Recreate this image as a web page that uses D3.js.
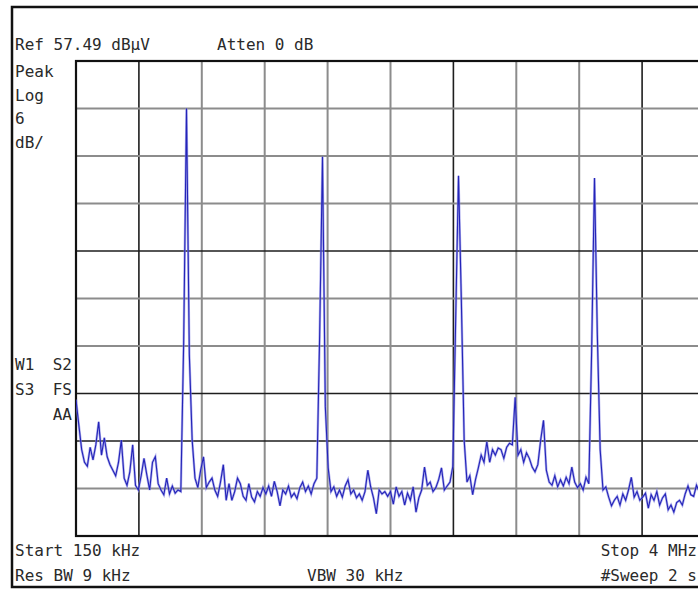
<!DOCTYPE html>
<meta charset="utf-8">
<style>
body { margin: 0; background: #fff; }
.lbl { font-family: "DejaVu Sans Mono", monospace; font-size: 16px; fill: #2a2a2a; }
</style>
<svg id="chart" width="698" height="590"></svg>
<script src="https://d3js.org/d3.v7.min.js"></script>
<script>

// sweep settings (MHz, dBuV)
var startMHz = 0.15,
    stopMHz = 4,
    refLevel = 57.49,
    dbPerDiv = 6,
    divisions = 10;

// trace amplitudes, dBuV, one per sweep point from start to stop
var trace = [
  14.7, 11.5, 8.4, 6.8, 6.3, 8.7, 7.1, 9.0, 11.9, 7.7,
  9.9, 7.5, 6.5, 5.8, 5.1, 6.8, 9.6, 4.8, 3.9, 5.6,
  9.0, 3.9, 3.3, 5.1, 7.3, 5.2, 3.3, 6.8, 7.5, 4.1,
  3.3, 2.7, 4.8, 2.8, 3.8, 2.9, 3.3, 3.1, 21.9, 51.5,
  20.4, 9.6, 4.8, 3.6, 5.8, 7.5, 3.6, 4.3, 4.8, 3.3,
  2.5, 4.3, 6.5, 2.0, 4.1, 2.0, 3.1, 4.8, 4.1, 2.5,
  2.0, 4.1, 2.4, 1.8, 3.1, 2.5, 3.6, 2.8, 3.8, 2.5,
  4.4, 3.1, 1.3, 3.3, 2.8, 3.8, 2.4, 2.9, 2.2, 3.6,
  4.3, 3.1, 3.8, 2.8, 4.1, 4.8, 22.9, 45.4, 13.8, 6.1,
  3.1, 3.7, 2.5, 3.3, 2.4, 3.8, 4.6, 2.8, 3.3, 2.3,
  2.8, 2.0, 3.1, 5.8, 3.7, 2.3, 0.3, 3.3, 2.8, 3.1,
  2.5, 3.1, 1.5, 3.7, 2.5, 3.1, 1.4, 2.9, 2.0, 3.7,
  0.5, 2.3, 3.3, 6.2, 3.9, 4.3, 3.1, 3.6, 4.6, 6.1,
  3.3, 3.8, 4.3, 6.3, 24.8, 43.0, 27.3, 9.6, 4.3, 5.1,
  2.7, 4.6, 6.1, 7.7, 6.8, 9.4, 6.8, 8.4, 7.7, 8.6,
  8.4, 7.3, 8.7, 9.2, 9.0, 15.0, 7.7, 8.4, 6.8, 8.0,
  7.3, 6.2, 5.6, 6.5, 9.6, 12.1, 5.8, 4.3, 3.9, 5.1,
  3.7, 4.6, 3.8, 4.9, 4.1, 6.2, 4.3, 3.6, 4.1, 3.3,
  4.9, 4.1, 21.0, 42.7, 22.9, 8.4, 3.3, 3.7, 2.4, 1.3,
  2.0, 2.5, 1.4, 2.8, 2.0, 3.3, 4.9, 2.4, 3.1, 2.0,
  2.4, 2.9, 1.0, 2.7, 2.0, 3.1, 1.4, 2.3, 2.8, 0.8,
  1.4, 0.5, 1.7, 2.0, 1.4, 2.8, 3.8, 2.7, 2.5, 3.9,
  3.1, 3.6, 3.3
];

var topLabels = ["Ref 57.49 dB\u00b5V", "Atten 0 dB"];
var sideLabels = ["Peak", "Log", "6", "dB/"];
var modeLabels = [["W1", "S2"], ["S3", "FS"], ["", "AA"]];
var bottomLeft = ["Start 150 kHz", "Res BW 9 kHz"];
var bottomMid = "VBW 30 kHz";
var bottomRight = ["Stop 4 MHz", "#Sweep 2 s"];

var svg = d3.select("svg");

var plot = {left: 76, top: 61, width: 629, height: 475};

var x = d3.scaleLinear()
    .domain([startMHz, stopMHz])
    .range([plot.left, plot.left + plot.width]);

var y = d3.scaleLinear()
    .domain([refLevel - dbPerDiv * divisions, refLevel])
    .range([plot.top + plot.height, plot.top]);

var step = (stopMHz - startMHz) / (trace.length - 1);
var points = trace.map(function(d, i) { return [startMHz + i * step, d]; });

// outer frame (right side is off the picture)
svg.append("rect")
    .attr("x", 12).attr("y", 7)
    .attr("width", 720).attr("height", 580)
    .attr("fill", "none")
    .attr("stroke", "#111")
    .attr("stroke-width", 2.5);

// graticule
var xDiv = d3.range(1, divisions).map(function(k) { return startMHz + k * (stopMHz - startMHz) / divisions; });
var yDiv = d3.range(1, divisions).map(function(k) { return refLevel - k * dbPerDiv; });
var darkX = [1, 6, 9], darkY = [4, 7, 8];

var grid = svg.append("g");

grid.selectAll(".vgrid")
    .data(xDiv)
  .enter().append("line")
    .attr("x1", function(d) { return x(d); })
    .attr("x2", function(d) { return x(d); })
    .attr("y1", plot.top)
    .attr("y2", plot.top + plot.height)
    .attr("stroke", function(d, i) { return darkX.indexOf(i + 1) >= 0 ? "#1e1e1e" : "#8c8c8c"; })
    .attr("stroke-width", function(d, i) { return darkX.indexOf(i + 1) >= 0 ? 1.6 : 2; });

grid.selectAll(".hgrid")
    .data(yDiv)
  .enter().append("line")
    .attr("x1", plot.left)
    .attr("x2", plot.left + plot.width)
    .attr("y1", function(d) { return y(d); })
    .attr("y2", function(d) { return y(d); })
    .attr("stroke", function(d, i) { return darkY.indexOf(i + 1) >= 0 ? "#1e1e1e" : "#8c8c8c"; })
    .attr("stroke-width", function(d, i) { return darkY.indexOf(i + 1) >= 0 ? 1.6 : 2; });

grid.append("rect")
    .attr("x", plot.left).attr("y", plot.top)
    .attr("width", plot.width).attr("height", plot.height)
    .attr("fill", "none")
    .attr("stroke", "#111")
    .attr("stroke-width", 2.2);

// trace
svg.append("clipPath").attr("id", "clip")
  .append("rect")
    .attr("x", plot.left).attr("y", plot.top)
    .attr("width", plot.width).attr("height", plot.height);

var line = d3.line()
    .x(function(d) { return x(d[0]); })
    .y(function(d) { return y(d[1]); });

var tr = svg.append("g").attr("clip-path", "url(#clip)");

tr.append("path")
    .datum(points)
    .attr("fill", "none")
    .attr("stroke", "#8c8ce6")
    .attr("stroke-width", 2.4)
    .attr("stroke-opacity", 0.7)
    .attr("d", line);

tr.append("path")
    .datum(points)
    .attr("fill", "none")
    .attr("stroke", "#2424b8")
    .attr("stroke-width", 1.1)
    .attr("d", line);

// annotations
svg.append("text").attr("class", "lbl").attr("x", 15).attr("y", 50).text(topLabels[0]);
svg.append("text").attr("class", "lbl").attr("x", 217).attr("y", 50).text(topLabels[1]);

svg.selectAll(".side")
    .data(sideLabels)
  .enter().append("text")
    .attr("class", "lbl")
    .attr("x", 15)
    .attr("y", function(d, i) { return 77 + i * 23.5; })
    .text(function(d) { return d; });

modeLabels.forEach(function(pair, i) {
  var yy = 370 + i * 25;
  svg.append("text").attr("class", "lbl").attr("x", 15).attr("y", yy).text(pair[0]);
  svg.append("text").attr("class", "lbl").attr("x", 72).attr("y", yy)
      .attr("text-anchor", "end").text(pair[1]);
});

bottomLeft.forEach(function(t, i) {
  svg.append("text").attr("class", "lbl").attr("x", 15).attr("y", 556 + i * 25).text(t);
});

svg.append("text").attr("class", "lbl").attr("x", 307).attr("y", 581).text(bottomMid);

bottomRight.forEach(function(t, i) {
  svg.append("text").attr("class", "lbl").attr("x", 697).attr("y", 556 + i * 25)
      .attr("text-anchor", "end").text(t);
});

</script>
